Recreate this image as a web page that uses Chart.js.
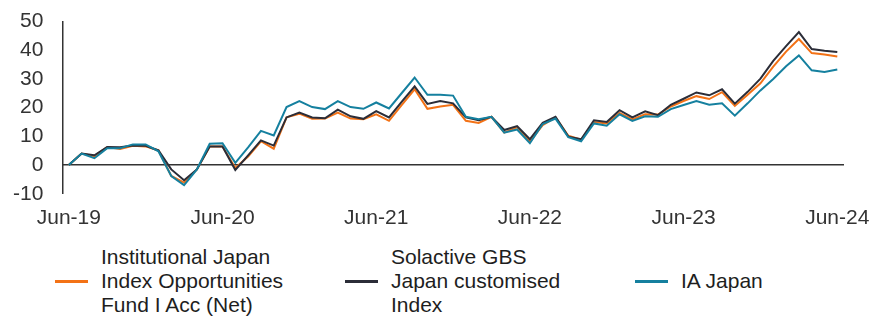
<!DOCTYPE html>
<html>
<head>
<meta charset="utf-8">
<script src="https://cdn.jsdelivr.net/npm/chart.js@4"></script>
<style>
  html, body { margin: 0; padding: 0; background: #fff; }
  body { width: 872px; height: 316px; position: relative; overflow: hidden; font-family: "Liberation Sans", Arial, sans-serif; }
  #wrap { position: absolute; left: 0; top: 0; width: 872px; height: 234px; }
  .item { position: absolute; top: 245px; height: 72px; display: flex; align-items: center; }
  .swatch { width: 33px; height: 3px; margin-right: 13px; flex: none; }
  .txt { font-size: 21px; line-height: 24px; color: #1e1e1e; }
</style>
</head>
<body>
<div id="wrap"><canvas id="c"></canvas></div>
<div id="legend"></div>
<script>
const categories = [
  'Jun-19','Jul-19','Aug-19','Sep-19','Oct-19','Nov-19','Dec-19','Jan-20','Feb-20','Mar-20','Apr-20','May-20',
  'Jun-20','Jul-20','Aug-20','Sep-20','Oct-20','Nov-20','Dec-20','Jan-21','Feb-21','Mar-21','Apr-21','May-21',
  'Jun-21','Jul-21','Aug-21','Sep-21','Oct-21','Nov-21','Dec-21','Jan-22','Feb-22','Mar-22','Apr-22','May-22',
  'Jun-22','Jul-22','Aug-22','Sep-22','Oct-22','Nov-22','Dec-22','Jan-23','Feb-23','Mar-23','Apr-23','May-23',
  'Jun-23','Jul-23','Aug-23','Sep-23','Oct-23','Nov-23','Dec-23','Jan-24','Feb-24','Mar-24','Apr-24','May-24',
  'Jun-24'
];
const shownTicks = ['Jun-19','Jun-20','Jun-21','Jun-22','Jun-23','Jun-24'];
const yTicks = [-10, 0, 10, 20, 30, 40, 50];

const fundLabel = 'Institutional Japan Index Opportunities Fund I Acc (Net)';
const fundValues = [
  0, 4.0, 3.1, 6.3, 5.6, 6.7, 6.5, 5.1, -3.8, -6.1, -1.5, 6.5,
  6.5, -1.0, 3.0, 8.3, 5.7, 16.6, 17.9, 16.1, 16.2, 18.3, 16.2, 16.0,
  17.7, 15.4, 21.0, 26.4, 19.6, 20.4, 21.0, 15.4, 14.7, 16.8, 11.3, 13.2,
  8.2, 13.9, 16.6, 10.2, 8.8, 15.0, 14.5, 18.2, 15.9, 17.7, 17.6, 20.4,
  22.3, 24.0, 23.0, 25.4, 20.6, 24.5, 28.5, 34.3, 39.5, 43.9, 39.0, 38.5,
  37.8
];

const indexLabel = 'Solactive GBS Japan customised Index';
const indexValues = [
  0, 4.0, 3.4, 6.3, 6.2, 6.8, 6.7, 5.1, -1.5, -5.3, -1.5, 6.5,
  6.5, -1.7, 3.4, 8.6, 6.8, 16.6, 18.3, 16.6, 16.3, 19.3, 17.0, 16.1,
  18.8, 16.6, 22.1, 27.4, 21.3, 22.3, 21.5, 16.6, 15.6, 16.8, 12.2, 13.6,
  9.0, 14.7, 16.8, 9.9, 9.0, 15.6, 15.0, 19.1, 16.6, 18.7, 17.4, 21.0,
  23.1, 25.3, 24.3, 26.4, 21.4, 25.5, 30.1, 36.3, 41.4, 46.3, 40.4, 39.8,
  39.4
];

const sectorLabel = 'IA Japan';
const sectorValues = [
  0, 4.0, 2.4, 5.9, 5.9, 7.2, 7.2, 4.8, -3.8, -7.0, -1.5, 7.4,
  7.6, 0.8, 6.2, 11.9, 10.3, 20.2, 22.3, 20.2, 19.5, 22.3, 20.2, 19.6,
  21.8, 19.7, 25.1, 30.5, 24.5, 24.5, 24.2, 16.8, 16.0, 16.8, 11.3, 12.4,
  7.6, 14.3, 16.2, 9.7, 8.3, 14.5, 13.7, 17.7, 15.4, 17.0, 16.8, 19.5,
  20.9, 22.3, 21.0, 21.5, 17.2, 21.5, 26.0, 30.0, 34.4, 38.2, 33.0, 32.4,
  33.3
];

const colors = { fund: '#F37216', index: '#2B2D38', sector: '#15809F' };
const FONT = { family: '"Liberation Sans", Arial, sans-serif', size: 21 };

const datasets = [
  { label: fundLabel, data: fundValues, borderColor: colors.fund, order: 3 },
  { label: indexLabel, data: indexValues, borderColor: colors.index, order: 2 },
  { label: sectorLabel, data: sectorValues, borderColor: colors.sector, order: 1 }
].map(d => Object.assign(d, { borderWidth: 2, pointRadius: 0, tension: 0, fill: false, xAxisID: 'x', yAxisID: 'y' }));

const chart = new Chart(document.getElementById('c'), {
  type: 'line',
  data: { labels: categories, datasets },
  options: {
    responsive: true,
    maintainAspectRatio: false,
    animation: false,
    layout: { padding: { left: 13, right: 0, top: 0, bottom: 3 } },
    plugins: { legend: { display: false }, tooltip: { enabled: false } },
    scales: {
      x: {
        type: 'category',
        offset: true,
        grid: { display: false, drawTicks: false },
        border: { display: false },
        afterFit: s => { s.height = 37.2; s.paddingLeft = 0; s.paddingRight = 28.3; },
        ticks: {
          autoSkip: false, maxRotation: 0, minRotation: 0, padding: 12,
          color: '#333', font: FONT,
          callback: function(v, i) { const l = categories[i]; return shownTicks.includes(l) ? l : ''; }
        }
      },
      zero: {
        axis: 'x',
        type: 'category',
        position: { y: 0 },
        offset: true,
        grid: { display: false, drawTicks: false },
        border: { display: true, color: '#333', width: 1.5 },
        ticks: { display: false },
        afterFit: s => { s.height = 0; s.paddingLeft = 0; s.paddingRight = 0; }
      },
      y: {
        min: yTicks[0], max: yTicks[yTicks.length - 1],
        afterBuildTicks: s => { s.ticks = yTicks.map(v => ({ value: v })); },
        afterFit: s => { s.width = 49.4; s.paddingTop = 21.5; s.paddingBottom = 0; },
        grid: { display: false, drawTicks: false },
        border: { display: true, color: '#333', width: 1.5 },
        ticks: { autoSkip: false, padding: 19, color: '#333', font: FONT }
      }
    }
  }
});

// HTML legend built from the dataset labels
const legendPos = [
  { swatchLeft: 55, textWidth: 195 },
  { swatchLeft: 345, textWidth: 180 },
  { swatchLeft: 635, textWidth: 180 }
];
const legend = document.getElementById('legend');
datasets.forEach((d, i) => {
  const item = document.createElement('div');
  item.className = 'item';
  item.style.left = legendPos[i].swatchLeft + 'px';
  const sw = document.createElement('div');
  sw.className = 'swatch';
  sw.style.background = d.borderColor;
  const tx = document.createElement('div');
  tx.className = 'txt';
  tx.style.width = legendPos[i].textWidth + 'px';
  tx.textContent = d.label;
  item.appendChild(sw);
  item.appendChild(tx);
  legend.appendChild(item);
});
</script>
</body>
</html>
